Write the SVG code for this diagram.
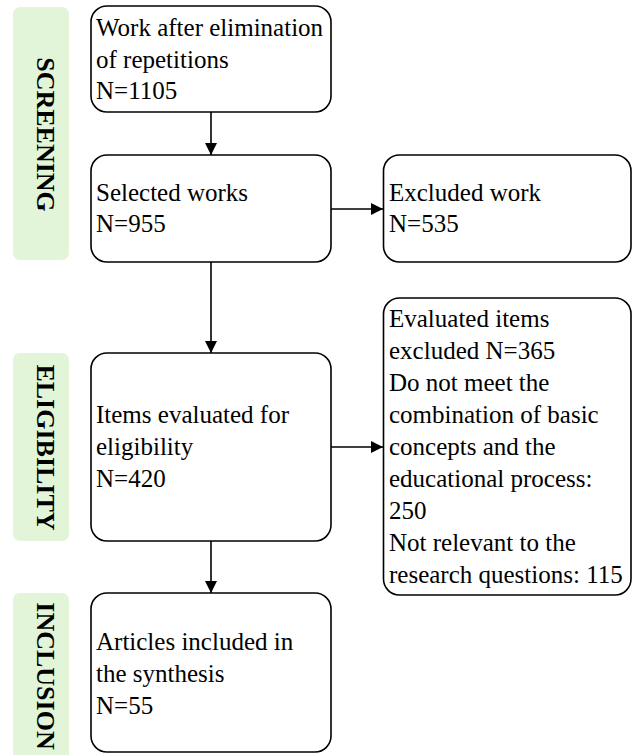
<svg xmlns="http://www.w3.org/2000/svg" width="632" height="755" viewBox="0 0 632 755">
<style>
.node rect{fill:#fff;stroke:#000;stroke-width:1.6}
.lane rect{fill:#e2f5d9;stroke:none}
.t{font-family:"Liberation Serif","Times New Roman",serif;font-size:25px;fill:#000}
.lt{font-family:"Liberation Serif","Times New Roman",serif;font-size:26px;font-weight:bold;fill:#000;text-anchor:middle}
.edge{stroke:#000;stroke-width:1.6;fill:none}
</style>
<defs>
<marker id="ah" viewBox="0 0 12 12" refX="12" refY="6" markerWidth="12" markerHeight="12" markerUnits="userSpaceOnUse" orient="auto">
<path d="M0,0 L12,6 L0,12 Z" fill="#000"/>
</marker>
</defs>
<g id="lane-screening" class="lane">
<rect x="13" y="7" width="56" height="253" rx="7"/>
<text class="lt" transform="translate(37,134.5) rotate(90)">SCREENING</text>
</g>
<g id="lane-eligibility" class="lane">
<rect x="13" y="353" width="56" height="188" rx="7"/>
<text class="lt" transform="translate(37,447.5) rotate(90)">ELIGIBILITY</text>
</g>
<g id="lane-inclusion" class="lane">
<rect x="13" y="593" width="56" height="172" rx="7"/>
<text class="lt" transform="translate(37,676) rotate(90)">INCLUSION</text>
</g>
<g id="edges">
<line class="edge" x1="211" y1="112" x2="211" y2="155" marker-end="url(#ah)"/>
<line class="edge" x1="331" y1="209" x2="383" y2="209" marker-end="url(#ah)"/>
<line class="edge" x1="211" y1="262" x2="211" y2="353" marker-end="url(#ah)"/>
<line class="edge" x1="331" y1="447" x2="383" y2="447" marker-end="url(#ah)"/>
<line class="edge" x1="211" y1="541" x2="211" y2="593" marker-end="url(#ah)"/>
</g>
<g id="n-after-elim" class="node">
<rect x="91" y="6" width="240" height="106" rx="16"/>
<text class="t" x="96" y="36">Work after elimination</text>
<text class="t" x="96" y="67.5">of repetitions</text>
<text class="t" x="96" y="99">N=1105</text>
</g>
<g id="n-selected" class="node">
<rect x="91" y="155" width="240" height="107" rx="16"/>
<text class="t" x="96" y="200.5">Selected works</text>
<text class="t" x="96" y="231.5">N=955</text>
</g>
<g id="n-excluded" class="node">
<rect x="383.5" y="155" width="247.5" height="107" rx="16"/>
<text class="t" x="389" y="201">Excluded work</text>
<text class="t" x="389" y="231.5">N=535</text>
</g>
<g id="n-eligibility" class="node">
<rect x="91" y="353" width="240" height="188" rx="16"/>
<text class="t" x="96" y="423">Items evaluated for</text>
<text class="t" x="96" y="455">eligibility</text>
<text class="t" x="96" y="487">N=420</text>
</g>
<g id="n-excluded-items" class="node">
<rect x="383.5" y="298" width="247.5" height="297" rx="16"/>
<text class="t" x="389" y="326.5">Evaluated items</text>
<text class="t" x="389" y="358.5">excluded N=365</text>
<text class="t" x="389" y="390.5">Do not meet the</text>
<text class="t" x="389" y="422.5">combination of basic</text>
<text class="t" x="389" y="454.5">concepts and the</text>
<text class="t" x="389" y="486.5">educational process:</text>
<text class="t" x="389" y="518.5">250</text>
<text class="t" x="389" y="550.5">Not relevant to the</text>
<text class="t" x="389" y="582.5">research questions: 115</text>
</g>
<g id="n-included" class="node">
<rect x="91" y="593" width="240" height="159" rx="16"/>
<text class="t" x="96" y="650">Articles included in</text>
<text class="t" x="96" y="682">the synthesis</text>
<text class="t" x="96" y="714">N=55</text>
</g>
</svg>
